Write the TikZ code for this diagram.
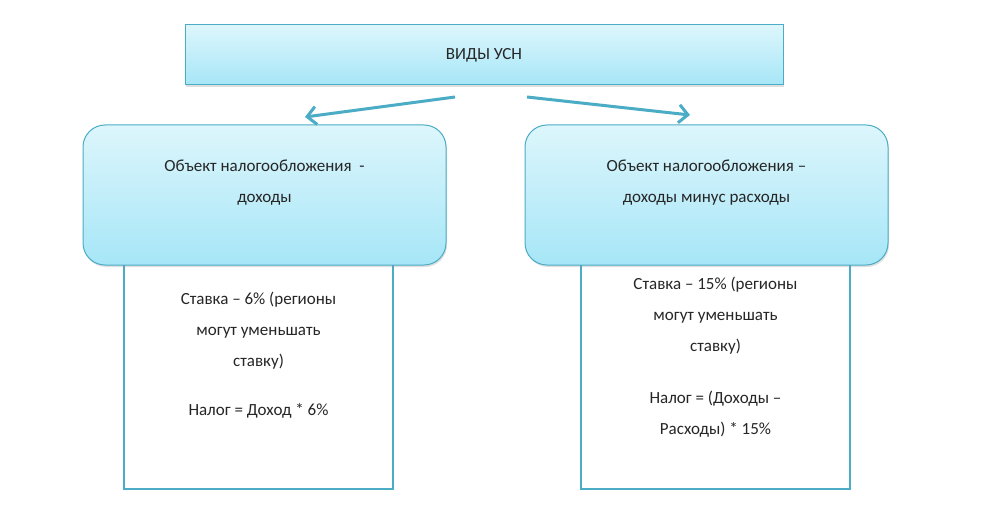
\documentclass[tikz,border=0pt]{standalone}
\usepackage{fontspec}
\setmainfont{Carlito}
\usetikzlibrary{arrows.meta,shadows}
\definecolor{tealb}{HTML}{4BACC6}
\definecolor{topc}{HTML}{DDF6FC}
\definecolor{botc}{HTML}{A6E6F7}
\tikzset{
  fillbox/.style={draw=tealb, line width=1pt, top color=topc, bottom color=botc, drop shadow={shadow xshift=1pt,shadow yshift=-2pt,opacity=0.25}},
  lowbox/.style={draw=tealb, line width=2.5pt},
  arr/.style={draw=tealb, line width=3pt, -{Straight Barb[length=9pt,width=18pt,line width=3pt]}},
  txt/.style={font=\fontsize{17}{31}\selectfont, align=center, text=black!85}
}
\begin{document}
\begin{tikzpicture}[x=1pt,y=-1pt]
\useasboundingbox[fill=white] (0,0) rectangle (990,508);
% lower boxes
\coordinate (l1) at (124,262); \coordinate (l2) at (393,262);
\coordinate (r1) at (581,262); \coordinate (r2) at (850,262);
\draw[lowbox] (l1) |- (258.5,489) -| (l2);
\draw[lowbox] (r1) |- (715.5,489) -| (r2);
% top box
\node[fillbox, minimum width=598pt, minimum height=60pt, txt] (top) at (484,55) {ВИДЫ УСН};
% rounded boxes
\node[fillbox, rounded corners=22pt, minimum width=363pt, minimum height=140pt] (lb) at (264.5,195) {};
\node[fillbox, rounded corners=22pt, minimum width=363pt, minimum height=140pt] (rb) at (706.5,195) {};
\node[txt] (lt) at (264.5,183) {Объект налогообложения\ \ -\\доходы};
\node[txt] (rt) at (706.5,183) {Объект налогообложения –\\доходы минус расходы};
% arrows
\coordinate (a1) at (455,97); \coordinate (a2) at (527,97);
\coordinate (e1) at (305,117); \coordinate (e2) at (690,115);
\draw[arr] (a1) -- (e1);
\draw[arr] (a2) -- (e2);
% lower texts
\node[txt] (ls) at (258.5,331) {Ставка – 6\% (регионы\\могут уменьшать\\ставку)};
\node[txt] (ln) at (258.5,411) {Налог = Доход * 6\%};
\node[txt] (rs) at (715.5,316) {Ставка – 15\% (регионы\\могут уменьшать\\ставку)};
\node[txt] (rn) at (715.5,414) {Налог = (Доходы –\\Расходы) * 15\%};
\end{tikzpicture}
\end{document}
